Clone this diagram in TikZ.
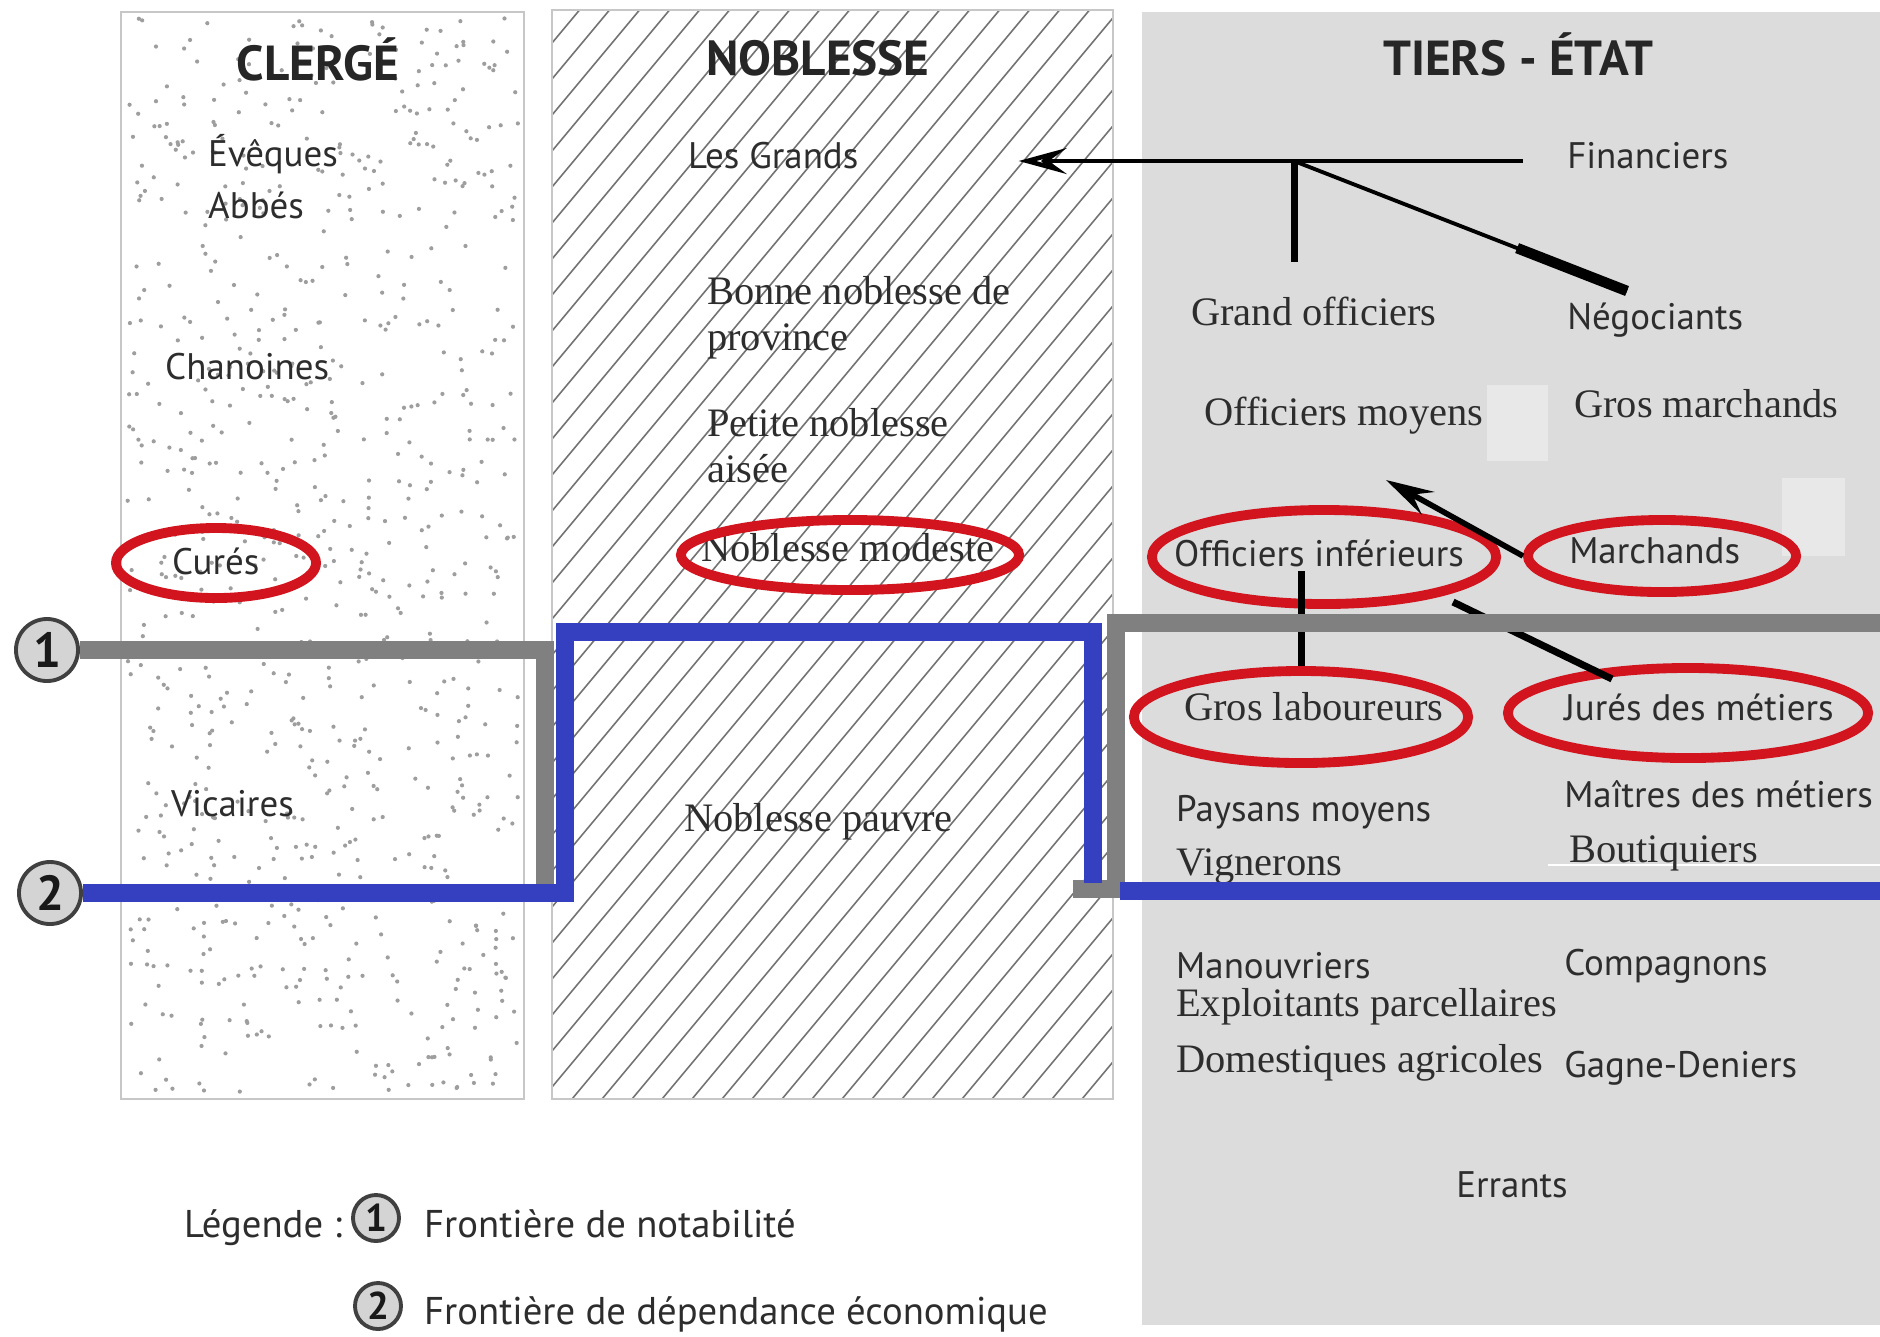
\documentclass[tikz,border=0pt]{standalone}
\usepackage{fontspec}
\setmainfont{PT Sans}
\newfontfamily\serifface{Liberation Serif}
\usetikzlibrary{arrows.meta,shapes.geometric}
\definecolor{tiersgrey}{RGB}{220,220,220}
\definecolor{notabgrey}{RGB}{128,128,128}
\definecolor{econblue}{RGB}{52,64,192}
\definecolor{ringred}{RGB}{210,20,30}
\definecolor{ink}{RGB}{45,45,45}

\begin{document}
\begin{tikzpicture}[x=0.01cm, y=-0.01cm,
  lab/.style={anchor=base west, inner sep=1pt, text=ink, font=\fontsize{10.5}{12}\selectfont},
  slab/.style={lab, font=\serifface\fontsize{11.5}{13}\selectfont},
  leglab/.style={lab, font=\fontsize{11}{13}\selectfont},
  head/.style={anchor=base, inner sep=1pt, text=black!85, font=\bfseries\fontsize{14}{16}\selectfont},
  ring/.style={ellipse, draw=ringred, line width=2.8pt, inner sep=0pt},
  link/.style={draw=black, line width=1.3pt},
  arrowtip/.style={-{Stealth[open, length=4.8mm, width=2.6mm, inset=1.8mm]}},
  notab/.style={draw=notabgrey, line width=5pt, line join=miter},
  econ/.style={draw=econblue, line width=5pt, line join=miter},
  num/.style={circle, draw=black!75, fill=black!17, line width=1.1pt, inner sep=0pt,
    text=black!90, font=\bfseries\fontsize{14}{16}\selectfont, minimum size=0.62cm},
  smallnum/.style={num, minimum size=0.46cm, font=\bfseries\fontsize{11}{12}\selectfont},
]
\useasboundingbox[fill=white] (0,0) rectangle (1880,1336);

% clerge: stippled box
\draw[black!22, line width=0.6pt] (121,12) rectangle (524,1099);
\pgfmathsetseed{4}
\foreach \i in {1,...,850}{
  \pgfmathsetmacro\px{127+391*rnd}
  \pgfmathsetmacro\py{18+1076*rnd}
  \fill[black!38] (\px,\py) circle[radius=0.021cm];
}

% noblesse: hatched box
\begin{scope}
  \clip (552,10) rectangle (1113,1099);
  \foreach \k in {-1300,-1270,...,600}
    \draw[black!55, line width=0.45pt] (552+\k,1099) -- ++(1100,-1320);
\end{scope}
\draw[black!22, line width=0.6pt] (552,10) rectangle (1113,1099);

% tiers etat
\fill[tiersgrey] (1142,12) rectangle (1880,1325);
\fill[black!9] (1487,385) rectangle (1548,461);
\fill[black!9] (1782,478) rectangle (1845,556);
\draw[white, line width=0.8pt] (1548,865) -- (1880,865);

\node[head] (clerge) at (318,80) {CLERGÉ};
\node[lab] (eveq) at (204,166) {Évêques};
\node[lab] (abbes) at (204,218) {Abbés};
\node[lab] (chan) at (161,379) {Chanoines};
\node[lab] (cures) at (168,574) {Curés};
\node[lab] (vic) at (167,816) {Vicaires};

\node[head] (nobl) at (818,75) {NOBLESSE};
\node[lab] (grands) at (684,168) {Les Grands};
\node[slab] (bonne) at (703,304) {Bonne noblesse de};
\node[slab] (prov) at (703,350) {province};
\node[slab] (petite) at (703,436) {Petite noblesse};
\node[slab] (aisee) at (703,482) {aisée};
\node[slab] (modeste) at (697,561) {Noblesse modeste};
\node[slab] (pauvre) at (680,831) {Noblesse pauvre};

\node[head] (tiers) at (1518,75) {TIERS - ÉTAT};
\node[lab] (fin) at (1563,168) {Financiers};
\node[slab] (gof) at (1187,325) {Grand officiers};
\node[lab] (nego) at (1563,329) {Négociants};
\node[slab] (omoy) at (1200,425) {Officiers moyens};
\node[slab] (gmarch) at (1570,417) {Gros marchands};
\node[lab] (oinf) at (1170,566) {Officiers inférieurs};
\node[lab] (march) at (1565,563) {Marchands};
\node[slab] (glab) at (1180,720) {Gros laboureurs};
\node[lab] (jures) at (1560,720) {Jurés des métiers};
\node[lab] (paysans) at (1172,821) {Paysans moyens};
\node[slab] (vign) at (1172,875) {Vignerons};
\node[lab] (maitres) at (1560,807) {Maîtres des métiers};
\node[slab] (bout) at (1565,862) {Boutiquiers};
\node[lab] (manouv) at (1172,978) {Manouvriers};
\node[slab] (exploit) at (1172,1016) {Exploitants parcellaires};
\node[slab] (domest) at (1172,1072) {Domestiques agricoles};
\node[lab] (compa) at (1560,975) {Compagnons};
\node[lab] (gagne) at (1560,1077) {Gagne-Deniers};
\node[lab, anchor=base] (errants) at (1512,1197) {Errants};

% red rings
\node[ring, minimum width=2.00cm, minimum height=0.70cm] (rcures) at (216,563) {};
\node[ring, minimum width=3.38cm, minimum height=0.70cm] (rmod) at (850,555) {};
\node[ring, minimum width=3.44cm, minimum height=0.94cm] (roinf) at (1324,557) {};
\node[ring, minimum width=2.68cm, minimum height=0.72cm] (rmarch) at (1662,556) {};
\node[ring, minimum width=3.34cm, minimum height=0.92cm] (rglab) at (1301,717) {};
\node[ring, minimum width=3.60cm, minimum height=0.90cm] (rjur) at (1688,713) {};

% black connectors
\coordinate (j1) at (1294,161);
\coordinate (dn) at (1627,291);
\coordinate (omtip) at (1386,480);
\coordinate (da) at (1453,602);
\coordinate (db) at (1612,679);
\draw[link] ([xshift=-4mm]j1 -| fin.west) -- (j1);
\draw[link, arrowtip] (j1) -- ([xshift=15.6mm]j1 -| grands.east);
\draw[link, line width=2pt] (j1) -- ([yshift=3mm]j1 |- gof.north);
\draw[link, line width=1.1pt] (j1) -- (dn);
\path (j1) -- (dn) coordinate[pos=0.67] (dm);
\draw[link, line width=3pt] (dm) -- (dn);
\draw[link, line width=1.6pt, arrowtip] (rmarch.west) -- (omtip);
\draw[link, line width=2pt] (rglab.north) -- (rglab.north |- oinf.south);
\draw[link, line width=2pt] (da) -- (db);

% frontieres
\node[num] (b1) at (47,650) {1};
\node[num] (b2) at (50,893) {2};
\coordinate (g2) at (545,889);
\coordinate (g3) at (1073,889);
\coordinate (g5) at (1116,623);
\coordinate (g6) at (1880,623);
\coordinate (k2) at (565,632);
\coordinate (k4) at (1093,883);
\coordinate (k5) at (1120,891);
\coordinate (k6) at (1880,891);
\draw[notab] (b1.east) -| (g2);
\draw[notab] (g3) -| (g5) -- (g6);
\draw[econ] (b2.east) -| (k2) -| (k4);
\draw[econ] (k5) -- (k6);

% legende
\node[leglab] (leg) at (180,1237) {Légende :};
\node[smallnum] (l1) at (376,1218) {1};
\node[leglab] (fr1) at (420,1237) {Frontière de notabilité};
\node[smallnum] (l2) at (378,1306) {2};
\node[leglab] (fr2) at (420,1324) {Frontière de dépendance économique};
\end{tikzpicture}
\end{document}
